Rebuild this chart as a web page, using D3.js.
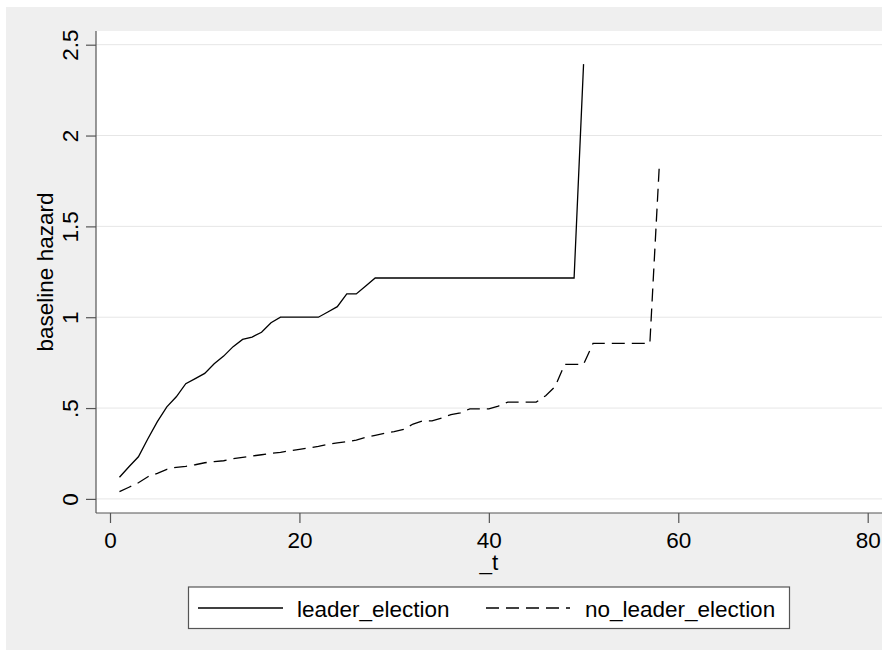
<!DOCTYPE html>
<html>
<head>
<meta charset="utf-8">
<script src="https://cdn.jsdelivr.net/npm/d3@7"></script>
<style>
  html, body { margin: 0; padding: 0; background: #ffffff; }
  svg { display: block; font-family: "Liberation Sans", Arial, sans-serif; }
</style>
</head>
<body>
<svg id="chart" width="887" height="654"></svg>
<script>
// ---- data ----
const tLeader = d3.range(1, 51);
const leaderHazard = [
  0.119, 0.177, 0.232, 0.331, 0.425, 0.507, 0.562, 0.634, 0.662, 0.691,
  0.744, 0.786, 0.838, 0.878, 0.891, 0.917, 0.970, 1.000, 1.000, 1.000,
  1.000, 1.000, 1.029, 1.058, 1.128, 1.128, 1.172, 1.216, 1.216, 1.216,
  1.216, 1.216, 1.216, 1.216, 1.216, 1.216, 1.216, 1.216, 1.216, 1.216,
  1.216, 1.216, 1.216, 1.216, 1.216, 1.216, 1.216, 1.216, 1.216, 2.393
];
const tNoLeader = d3.range(1, 59);
const noLeaderHazard = [
  0.040, 0.064, 0.089, 0.122, 0.141, 0.163, 0.174, 0.179, 0.188, 0.199,
  0.205, 0.210, 0.221, 0.229, 0.236, 0.243, 0.251, 0.256, 0.265, 0.273,
  0.281, 0.289, 0.300, 0.308, 0.315, 0.324, 0.339, 0.350, 0.361, 0.370,
  0.383, 0.412, 0.429, 0.429, 0.444, 0.464, 0.474, 0.496, 0.496, 0.496,
  0.511, 0.533, 0.533, 0.533, 0.533, 0.568, 0.618, 0.741, 0.741, 0.741,
  0.856, 0.856, 0.856, 0.856, 0.856, 0.856, 0.856, 1.838
];
const xTicks = [0, 20, 40, 60, 80];
const yTicks = [0, 0.5, 1, 1.5, 2, 2.5];
const yTickLabels = ["0", ".5", "1", "1.5", "2", "2.5"];
const seriesNames = ["leader_election", "no_leader_election"];
const xTitle = "_t";
const yTitle = "baseline hazard";

// ---- layout ----
const svg = d3.select("#chart");
const plot = { left: 96, right: 882, top: 31, bottom: 513 };
const x = d3.scaleLinear().domain([0, 80]).range([110, 867.7]);
const y = d3.scaleLinear().domain([0, 2.5]).range([498.9, 44.7]);
const FS = 22.5;

// outer background
svg.append("rect").attr("x", 6).attr("y", 7).attr("width", 876).attr("height", 643)
  .attr("fill", "#efefef");
// plot region
svg.append("rect").attr("x", plot.left).attr("y", plot.top)
  .attr("width", plot.right - plot.left).attr("height", plot.bottom - plot.top)
  .attr("fill", "#ffffff");

// gridlines
svg.append("g").selectAll("line").data(yTicks).join("line")
  .attr("x1", plot.left).attr("x2", plot.right)
  .attr("y1", d => y(d)).attr("y2", d => y(d))
  .attr("stroke", "#e6e6e6").attr("stroke-width", 1);

// y axis
const yAxis = d3.axisLeft(y).tickValues(yTicks).tickSize(10).tickPadding(8)
  .tickFormat((d, i) => yTickLabels[i]);
const gy = svg.append("g").attr("transform", `translate(${plot.left},0)`).call(yAxis);
gy.select(".domain").attr("d", `M0,${plot.top}V${plot.bottom}`).attr("stroke", "#555").attr("stroke-width", 1.2);
gy.selectAll(".tick line").attr("stroke", "#555").attr("stroke-width", 1.2);
gy.selectAll(".tick text")
  .attr("font-size", FS).attr("fill", "#000")
  .attr("text-anchor", "middle")
  .attr("x", null).attr("dy", null)
  .attr("transform", "translate(-18.5,0) rotate(-90)");

// x axis
const xAxis = d3.axisBottom(x).tickValues(xTicks).tickSize(10).tickPadding(8)
  .tickFormat(d3.format("d"));
const gx = svg.append("g").attr("transform", `translate(0,${plot.bottom})`).call(xAxis);
gx.select(".domain").attr("d", `M${plot.left},0H${plot.right}`).attr("stroke", "#555").attr("stroke-width", 1.2);
gx.selectAll(".tick line").attr("stroke", "#555").attr("stroke-width", 1.2);
gx.selectAll(".tick text").attr("font-size", FS).attr("fill", "#000")
  .attr("y", null).attr("dy", null).attr("transform", "translate(0,35)");

// axis titles
svg.append("text").attr("x", (plot.left + plot.right) / 2).attr("y", 570)
  .attr("text-anchor", "middle").attr("font-size", FS).attr("fill", "#000").text(xTitle);
svg.append("text").attr("transform", `translate(53,${(plot.top + plot.bottom) / 2}) rotate(-90)`)
  .attr("text-anchor", "middle").attr("font-size", FS).attr("fill", "#000").text(yTitle);

// lines
const line = d3.line().x(d => x(d[0])).y(d => y(d[1]));
svg.append("path").datum(tLeader.map((t, i) => [t, leaderHazard[i]]))
  .attr("d", line).attr("fill", "none").attr("stroke", "#000").attr("stroke-width", 1.3);
svg.append("path").datum(tNoLeader.map((t, i) => [t, noLeaderHazard[i]]))
  .attr("d", line).attr("fill", "none").attr("stroke", "#000").attr("stroke-width", 1.3)
  .attr("stroke-dasharray", "13,7");

// legend
const lg = svg.append("g");
lg.append("rect").attr("x", 188.5).attr("y", 587).attr("width", 601).attr("height", 41.5)
  .attr("fill", "#fff").attr("stroke", "#555").attr("stroke-width", 1.2);
lg.append("line").attr("x1", 198).attr("x2", 283).attr("y1", 608).attr("y2", 608)
  .attr("stroke", "#000").attr("stroke-width", 1.3);
lg.append("text").attr("x", 297).attr("y", 617).attr("font-size", FS).attr("fill", "#000").text(seriesNames[0]);
lg.append("line").attr("x1", 486).attr("x2", 570).attr("y1", 608).attr("y2", 608)
  .attr("stroke", "#000").attr("stroke-width", 1.3).attr("stroke-dasharray", "13,7");
lg.append("text").attr("x", 585).attr("y", 617).attr("font-size", FS).attr("fill", "#000").text(seriesNames[1]);
</script>
</body>
</html>
